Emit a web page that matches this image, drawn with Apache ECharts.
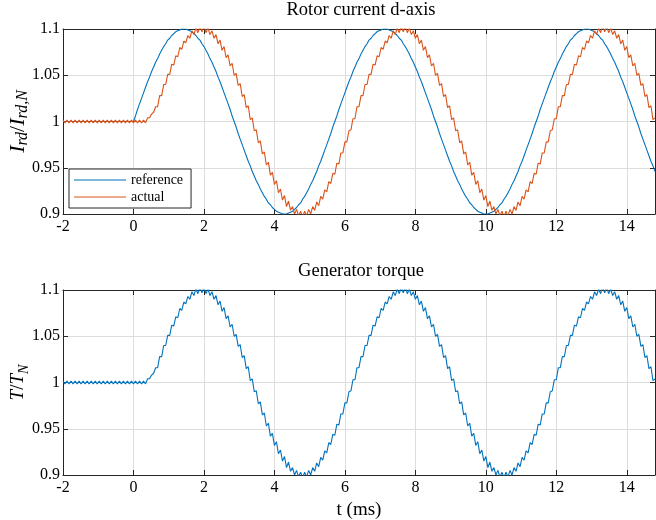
<!DOCTYPE html>
<html lang="en" style="height: 100%">
<head>
  <meta charset="utf-8">
</head>
<body style="height: 100%; margin: 0">
  <div id="container" style="width: 656px; height: 520px"></div>

  <script type="text/javascript" src="https://cdn.jsdelivr.net/npm/echarts@6/dist/echarts.min.js"></script>

  <script type="text/javascript">
    // time grid of the traces (ms): 100 samples per 175 Hz period
    const T0 = -2;
    const DT = 0.05714;
    const X_MIN = -2;
    const X_MAX = 14.8;

    // rotor current reference (p.u.)
    const reference = [
      1,1,1,1,1,1,1,1,1,1,1,1,1,1,1,1,1,1,1,1,1,1,1,1,1,1,1,1,1,1,1,1,1,1,1,
      1.000,1.006,1.013,1.019,1.025,1.031,1.037,1.043,1.048,1.054,
      1.059,1.064,1.068,1.073,1.077,1.081,1.084,1.088,1.090,1.093,
      1.095,1.097,1.098,1.099,1.100,1.100,1.100,1.099,1.098,1.097,
      1.095,1.093,1.090,1.088,1.084,1.081,1.077,1.073,1.068,1.064,
      1.059,1.054,1.048,1.043,1.037,1.031,1.025,1.019,1.013,1.006,
      1.000,0.994,0.987,0.981,0.975,0.969,0.963,0.957,0.952,0.946,
      0.941,0.936,0.932,0.927,0.923,0.919,0.916,0.912,0.910,0.907,
      0.905,0.903,0.902,0.901,0.900,0.900,0.900,0.901,0.902,0.903,
      0.905,0.907,0.910,0.912,0.916,0.919,0.923,0.927,0.932,0.936,
      0.941,0.946,0.952,0.957,0.963,0.969,0.975,0.981,0.987,0.994,
      1.000,1.006,1.013,1.019,1.025,1.031,1.037,1.043,1.048,1.054,
      1.059,1.064,1.068,1.073,1.077,1.081,1.084,1.088,1.090,1.093,
      1.095,1.097,1.098,1.099,1.100,1.100,1.100,1.099,1.098,1.097,
      1.095,1.093,1.090,1.088,1.084,1.081,1.077,1.073,1.068,1.064,
      1.059,1.054,1.048,1.043,1.037,1.031,1.025,1.019,1.013,1.006,
      1.000,0.994,0.987,0.981,0.975,0.969,0.963,0.957,0.952,0.946,
      0.941,0.936,0.932,0.927,0.923,0.919,0.916,0.912,0.910,0.907,
      0.905,0.903,0.902,0.901,0.900,0.900,0.900,0.901,0.902,0.903,
      0.905,0.907,0.910,0.912,0.916,0.919,0.923,0.927,0.932,0.936,
      0.941,0.946,0.952,0.957,0.963,0.969,0.975,0.981,0.987,0.994,
      1.000,1.006,1.013,1.019,1.025,1.031,1.037,1.043,1.048,1.054,
      1.059,1.064,1.068,1.073,1.077,1.081,1.084,1.088,1.090,1.093,
      1.095,1.097,1.098,1.099,1.100,1.100,1.100,1.099,1.098,1.097,
      1.095,1.093,1.090,1.088,1.084,1.081,1.077,1.073,1.068,1.064,
      1.059,1.054,1.048,1.043,1.037,1.031,1.025,1.019,1.013,1.006,
      1.000,0.994,0.987,0.981,0.975,0.969,0.963,0.957,0.952,0.946
    ];

    // measured rotor current (p.u.), with the switching ripple
    const actual = [
      1.0015,0.9985,1.0015,0.9985,1.0015,0.9985,1.0015,0.9985,1.0015,0.9985,
      1.0015,0.9985,1.0015,0.9985,1.0015,0.9985,1.0015,0.9985,1.0015,0.9985,
      1.0015,0.9985,1.0015,0.9985,1.0015,0.9985,1.0015,0.9985,1.0015,0.9985,
      1.0015,0.9985,1.0015,0.9985,1.0015,0.9985,1.0015,0.9985,1.0015,0.9985,
      1.0015,0.9985,
      1.004,1.004,1.008,1.010,
      1.016,1.016,1.028,1.028,1.040,1.040,1.051,1.051,1.062,1.061,
      1.071,1.070,1.080,1.078,1.087,1.085,1.093,1.090,1.098,1.094,
      1.101,1.096,1.103,1.097,1.103,1.096,1.101,1.094,1.098,1.090,
      1.094,1.084,1.088,1.077,1.081,1.069,1.072,1.060,1.063,1.050,
      1.052,1.039,1.041,1.027,1.029,1.015,1.017,1.002,1.004,0.990,
      0.991,0.977,0.979,0.965,0.967,0.953,0.956,0.942,0.945,0.932,
      0.936,0.923,0.927,0.915,0.920,0.908,0.914,0.904,0.908,0.900,
      0.905,0.898,0.903,0.897,0.903,0.898,0.905,0.900,0.908,0.904,
      0.913,0.909,0.919,0.916,0.926,0.924,0.935,0.933,0.944,0.943,
      0.955,0.954,0.966,0.966,0.978,0.978,0.990,0.991,
      1.003,1.003,
      1.016,1.016,1.028,1.028,1.040,1.040,1.051,1.051,1.062,1.061,
      1.071,1.070,1.080,1.078,1.087,1.085,1.093,1.090,1.098,1.094,
      1.101,1.096,1.103,1.097,1.103,1.096,1.101,1.094,1.098,1.090,
      1.094,1.084,1.088,1.077,1.081,1.069,1.072,1.060,1.063,1.050,
      1.052,1.039,1.041,1.027,1.029,1.015,1.017,1.002,1.004,0.990,
      0.991,0.977,0.979,0.965,0.967,0.953,0.956,0.942,0.945,0.932,
      0.936,0.923,0.927,0.915,0.920,0.908,0.914,0.904,0.908,0.900,
      0.905,0.898,0.903,0.897,0.903,0.898,0.905,0.900,0.908,0.904,
      0.913,0.909,0.919,0.916,0.926,0.924,0.935,0.933,0.944,0.943,
      0.955,0.954,0.966,0.966,0.978,0.978,0.990,0.991,
      1.003,1.003,
      1.016,1.016,1.028,1.028,1.040,1.040,1.051,1.051,1.062,1.061,
      1.071,1.070,1.080,1.078,1.087,1.085,1.093,1.090,1.098,1.094,
      1.101,1.096,1.103,1.097,1.103,1.096,1.101,1.094,1.098,1.090,
      1.094,1.084,1.088,1.077,1.081,1.069,1.072,1.060,1.063,1.050,
      1.052,1.039,1.041,1.027,1.029,1.015,1.017,1.002,1.004
    ];

    // generator torque (p.u.) reads the same as the measured current
    const torque = actual.slice();

    var FONT = '"Liberation Serif", serif';
    var AXIS_COLOR = '#262626';
    var GRID_COLOR = '#dddddd';
    var BLUE = '#0072BD';
    var ORANGE = '#D95319';

    function toPairs(values) {
      return values.map((v, i) => [T0 + i * DT, v]);
    }

    var dom = document.getElementById('container');
    var myChart = echarts.init(dom, null, { renderer: 'canvas' });

    function xAxisMain(gridIndex, name) {
      return {
        type: 'value', gridIndex: gridIndex,
        min: X_MIN, max: X_MAX, interval: 2,
        name: name, nameLocation: 'middle', nameGap: 26,
        nameTextStyle: { fontFamily: FONT, fontSize: 19, color: '#000' },
        axisLine: { show: true, onZero: false, lineStyle: { color: AXIS_COLOR } },
        axisTick: { show: true, inside: true, length: 5, lineStyle: { color: AXIS_COLOR } },
        axisLabel: { margin: 5, fontFamily: FONT, fontSize: 16, color: '#000', showMaxLabel: false },
        splitLine: { show: true, lineStyle: { color: GRID_COLOR } }
      };
    }
    function xAxisTop(gridIndex) {
      return {
        type: 'value', gridIndex: gridIndex, position: 'top',
        min: X_MIN, max: X_MAX, interval: 2,
        axisLine: { show: true, onZero: false, lineStyle: { color: AXIS_COLOR } },
        axisTick: { show: true, inside: true, length: 5, lineStyle: { color: AXIS_COLOR } },
        axisLabel: { show: false },
        splitLine: { show: false }
      };
    }
    function yAxisMain(gridIndex, name, nameGap, big, small) {
      var txt = { fontFamily: FONT, color: '#000' };
      return {
        type: 'value', gridIndex: gridIndex,
        min: 0.9, max: 1.1, interval: 0.05,
        name: name, nameLocation: 'middle', nameGap: nameGap,
        nameMoveOverlap: false,
        nameTextStyle: {
          rich: {
            i: Object.assign({ fontStyle: 'italic', fontSize: big, lineHeight: 26, verticalAlign: 'middle' }, txt),
            n: Object.assign({ fontSize: big, lineHeight: 26, verticalAlign: 'middle' }, txt),
            s: Object.assign({ fontStyle: 'italic', fontSize: small, lineHeight: small + 1, verticalAlign: 'bottom' }, txt)
          }
        },
        axisLine: { show: true, onZero: false, lineStyle: { color: AXIS_COLOR } },
        axisTick: { show: true, inside: true, length: 5, lineStyle: { color: AXIS_COLOR } },
        axisLabel: { margin: 3, fontFamily: FONT, fontSize: 16, color: '#000' },
        splitLine: { show: true, lineStyle: { color: GRID_COLOR } }
      };
    }
    function yAxisRight(gridIndex) {
      return {
        type: 'value', gridIndex: gridIndex, position: 'right',
        min: 0.9, max: 1.1, interval: 0.05,
        axisLine: { show: true, onZero: false, lineStyle: { color: AXIS_COLOR } },
        axisTick: { show: true, inside: true, length: 5, lineStyle: { color: AXIS_COLOR } },
        axisLabel: { show: false },
        splitLine: { show: false }
      };
    }

    var titleStyle = { fontFamily: FONT, fontSize: 18.5, fontWeight: 'normal', color: '#000' };

    var option = {
      animation: false,
      backgroundColor: '#fff',
      title: [
        { text: 'Rotor current d-axis', left: 361, top: 1, textAlign: 'center', padding: 0, textStyle: titleStyle },
        { text: 'Generator torque', left: 361, top: 262, textAlign: 'center', padding: 0, textStyle: titleStyle }
      ],
      legend: {
        data: ['reference', 'actual'],
        orient: 'vertical',
        left: 69, top: 169,
        padding: [4, 8, 4, 5],
        icon: 'rect',
        itemWidth: 52, itemHeight: 1.2, itemGap: 3,
        borderColor: AXIS_COLOR, borderWidth: 1, backgroundColor: '#fff',
        textStyle: { fontFamily: FONT, fontSize: 14, color: '#000' }
      },
      grid: [
        { left: 63, right: 1, top: 29, height: 185, outerBoundsMode: 'none' },
        { left: 63, right: 1, top: 290, height: 185, outerBoundsMode: 'none' }
      ],
      xAxis: [xAxisMain(0, ''), xAxisTop(0), xAxisMain(1, 't (ms)'), xAxisTop(1)],
      yAxis: [
        yAxisMain(0, '{i|I}{s|rd}{n|/}{i|I}{s|rd,N}', 32, 22, 16),
        yAxisRight(0),
        yAxisMain(1, '{i|T}{n|/}{i|T}{s|N}', 32, 19, 14),
        yAxisRight(1)
      ],
      series: [
        {
          name: 'reference', type: 'line', xAxisIndex: 0, yAxisIndex: 0,
          showSymbol: false, symbol: 'none',
          lineStyle: { color: BLUE, width: 1.1 }, itemStyle: { color: BLUE },
          data: toPairs(reference)
        },
        {
          name: 'actual', type: 'line', xAxisIndex: 0, yAxisIndex: 0,
          showSymbol: false, symbol: 'none',
          lineStyle: { color: ORANGE, width: 1.1 }, itemStyle: { color: ORANGE },
          data: toPairs(actual)
        },
        {
          name: 'torque', type: 'line', xAxisIndex: 2, yAxisIndex: 2,
          showSymbol: false, symbol: 'none',
          lineStyle: { color: BLUE, width: 1.1 }, itemStyle: { color: BLUE },
          data: toPairs(torque)
        }
      ]
    };

    if (option && typeof option === 'object') {
      myChart.setOption(option);
    }

    window.addEventListener('resize', myChart.resize);
  </script>
</body>
</html>
